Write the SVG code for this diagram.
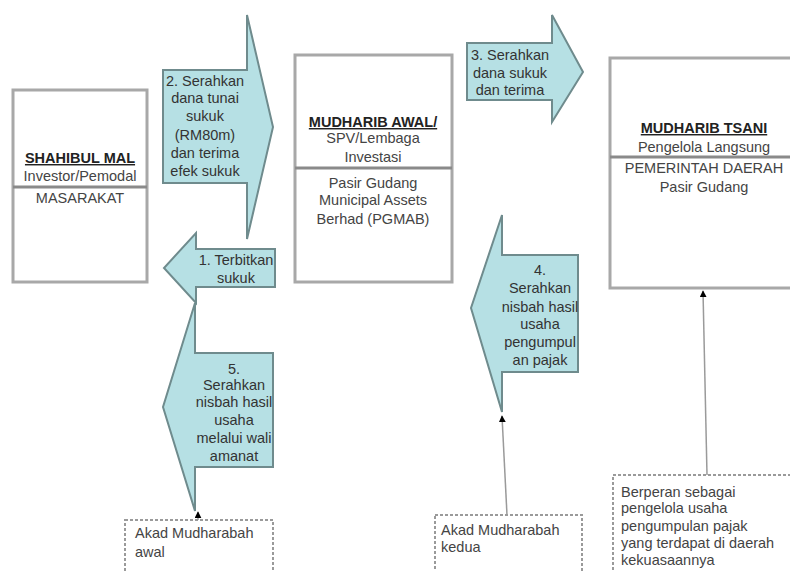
<svg xmlns="http://www.w3.org/2000/svg" width="790" height="571" viewBox="0 0 790 571">
<defs>
<style>
.box{fill:#fff;stroke:#a8a8a8;stroke-width:3}
.div{stroke:#8a8a8a;stroke-width:3}
.arr{fill:#b6e0e4;stroke:#6f8b8d;stroke-width:2;stroke-linejoin:miter}
.note{fill:#fff;stroke:#9a9a9a;stroke-width:2;stroke-dasharray:3 2}
text{font-family:"Liberation Sans",Arial,sans-serif;font-size:14.5px;fill:#444}
.c{text-anchor:middle}
.h{font-weight:bold;fill:#222;text-decoration:underline}
.at{fill:#333}
.con{stroke:#9a9a9a;stroke-width:1.5;fill:none;marker-end:url(#ah)}
</style>
<marker id="ah" viewBox="0 0 10 10" refX="9" refY="5" markerWidth="7" markerHeight="7" markerUnits="userSpaceOnUse" orient="auto">
<path d="M0,0 L10,5 L0,10 z" fill="#000"/>
</marker>
</defs>

<g id="shahibul-mal">
<rect class="box" x="13" y="90" width="134" height="192"/>
<line class="div" x1="13" y1="187" x2="147" y2="187"/>
<text class="c h" x="80" y="163">SHAHIBUL MAL</text>
<text class="c" x="80" y="181">Investor/Pemodal</text>
<text class="c" x="80" y="203">MASARAKAT</text>
</g>

<g id="mudharib-awal">
<rect class="box" x="295" y="55" width="157" height="227"/>
<line class="div" x1="295" y1="168" x2="452" y2="168"/>
<text class="c h" x="373" y="127">MUDHARIB AWAL/</text>
<text class="c" x="373" y="143">SPV/Lembaga</text>
<text class="c" x="373" y="162">Investasi</text>
<text class="c" x="373" y="188">Pasir Gudang</text>
<text class="c" x="373" y="205">Municipal Assets</text>
<text class="c" x="373" y="224">Berhad (PGMAB)</text>
</g>

<g id="mudharib-tsani">
<rect class="box" x="610" y="58" width="200" height="230"/>
<line class="div" x1="610" y1="157" x2="800" y2="157"/>
<text class="c h" x="704" y="133">MUDHARIB TSANI</text>
<text class="c" x="704" y="152">Pengelola Langsung</text>
<text class="c" x="704" y="173">PEMERINTAH DAERAH</text>
<text class="c" x="704" y="192">Pasir Gudang</text>
</g>

<g id="arrow-2">
<polygon class="arr" points="163,70 247,70 247,15 273,127 247,239 247,183 163,183"/>
<text class="c at" x="205" y="86">2. Serahkan</text>
<text class="c at" x="205" y="103">dana tunai</text>
<text class="c at" x="205" y="121">sukuk</text>
<text class="c at" x="205" y="140">(RM80m)</text>
<text class="c at" x="205" y="158">dan terima</text>
<text class="c at" x="205" y="176">efek sukuk</text>
</g>

<g id="arrow-1">
<polygon class="arr" points="275,249 196,249 196,233 164,268 196,303 196,287 275,287"/>
<text class="c at" x="236" y="265">1. Terbitkan</text>
<text class="c at" x="236" y="283">sukuk</text>
</g>

<g id="arrow-3">
<polygon class="arr" points="467,43 552,43 552,15 583,72 552,122 552,100 467,100"/>
<text class="c at" x="510" y="60">3. Serahkan</text>
<text class="c at" x="510" y="78">dana sukuk</text>
<text class="c at" x="510" y="95">dan terima</text>
</g>

<g id="arrow-4">
<polygon class="arr" points="578,255 502,255 502,215 471,308 502,412 502,372 578,372"/>
<text class="c at" x="540" y="275">4.</text>
<text class="c at" x="540" y="293">Serahkan</text>
<text class="c at" x="540" y="312">nisbah hasil</text>
<text class="c at" x="540" y="329">usaha</text>
<text class="c at" x="540" y="347">pengumpul</text>
<text class="c at" x="540" y="365">an pajak</text>
</g>

<g id="arrow-5">
<polygon class="arr" points="273,353 195,353 195,303 163,407 195,511 195,467 273,467"/>
<text class="c at" x="234" y="374">5.</text>
<text class="c at" x="234" y="390">Serahkan</text>
<text class="c at" x="234" y="407">nisbah hasil</text>
<text class="c at" x="234" y="425">usaha</text>
<text class="c at" x="234" y="443">melalui wali</text>
<text class="c at" x="234" y="461">amanat</text>
</g>

<g id="note-1">
<rect class="note" x="125" y="520" width="148" height="60"/>
<text x="135" y="538">Akad Mudharabah</text>
<text x="135" y="557">awal</text>
</g>

<g id="note-2">
<rect class="note" x="435" y="515" width="147" height="65"/>
<text x="441" y="535">Akad Mudharabah</text>
<text x="441" y="552">kedua</text>
</g>

<g id="note-3">
<rect class="note" x="613" y="475" width="190" height="105"/>
<text x="621" y="497">Berperan sebagai</text>
<text x="621" y="513">pengelola usaha</text>
<text x="621" y="531">pengumpulan pajak</text>
<text x="621" y="548">yang terdapat di daerah</text>
<text x="621" y="565">kekuasaannya</text>
</g>

<g id="connectors">
<line class="con" x1="198" y1="520" x2="198" y2="512"/>
<line class="con" x1="507" y1="515" x2="502" y2="416"/>
<line class="con" x1="707" y1="475" x2="703" y2="291"/>
</g>
</svg>
